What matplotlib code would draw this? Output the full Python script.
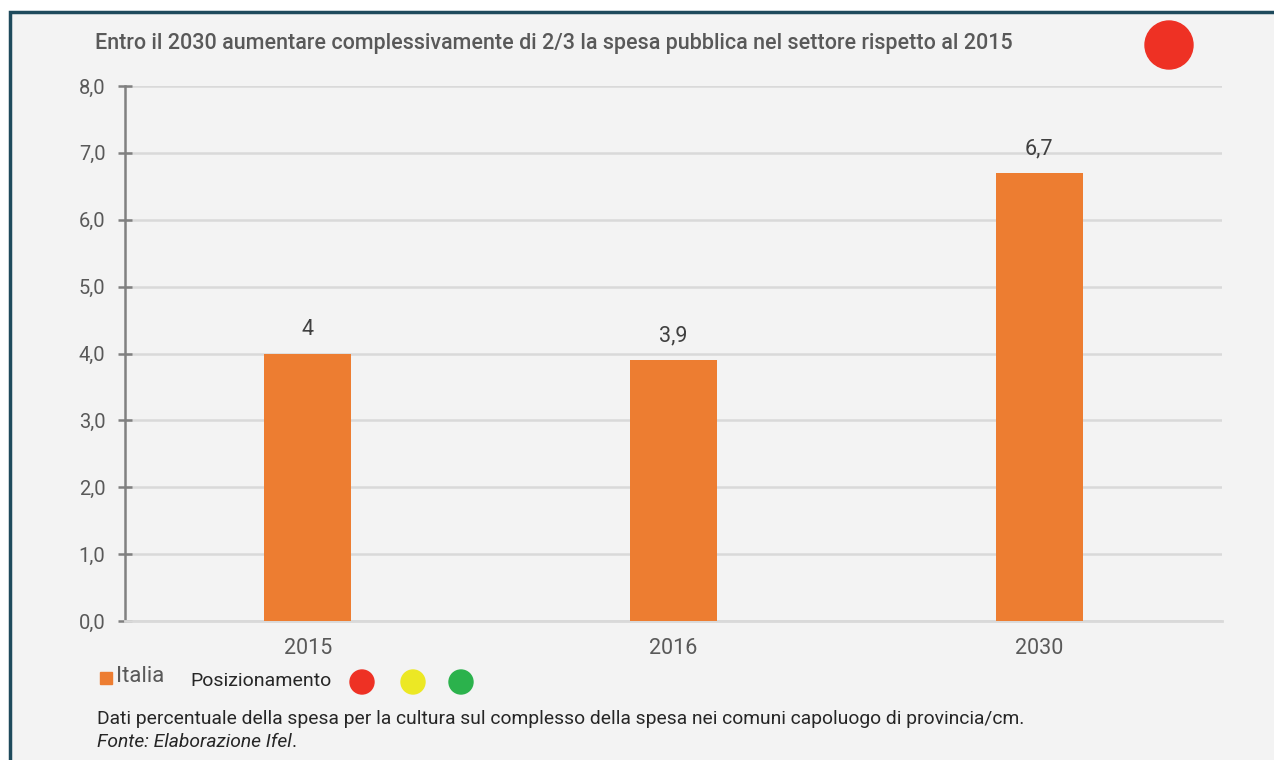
import matplotlib.pyplot as plt
from matplotlib.patches import Circle, Rectangle

plt.rcParams['font.family'] = ['Roboto', 'DejaVu Sans']

anni = ['2015', '2016', '2030']
spesa = [4.0, 3.9, 6.7]
etichette = ['4', '3,9', '6,7']
yticks = [0, 1, 2, 3, 4, 5, 6, 7, 8]

titolo = 'Entro il 2030 aumentare complessivamente di 2/3 la spesa pubblica nel settore rispetto al 2015'
nota = 'Dati percentuale della spesa per la cultura sul complesso della spesa nei comuni capoluogo di provincia/cm.'
fonte = 'Fonte: Elaborazione Ifel'

arancio = '#ed7d31'
sfondo = '#f3f3f3'
bordo = '#1e4a5c'

fig = plt.figure(figsize=(12.74, 7.6), dpi=100)
fig.patch.set_facecolor('white')

# pannello con bordo scuro (il lato destro e quello inferiore escono dall'immagine)
fig.patches.append(Rectangle((9.5 / 1274, -0.01), 1.02, 1 - 11.5 / 760 + 0.01,
                             transform=fig.transFigure, facecolor=sfondo,
                             edgecolor=bordo, linewidth=2.5, zorder=-10))

ax = fig.add_axes([125 / 1274, 1 - 621 / 760, (1222 - 125) / 1274, (621 - 86) / 760])
ax.patch.set_alpha(0)

x = range(len(anni))
ax.bar(x, spesa, width=0.238, color=arancio, zorder=3)
for xi, v, t in zip(x, spesa, etichette):
    ax.annotate(t, (xi, v), xytext=(0, 13.5), textcoords='offset points',
                ha='center', va='baseline', fontsize=15.5, color='#404040')

ax.set_xlim(-0.5, 2.5)
ax.set_ylim(0, 8)
ax.set_yticks(yticks)
ax.set_yticklabels([f'{t:.1f}'.replace('.', ',') for t in yticks])
ax.set_xticks(list(x))
ax.set_xticklabels(anni)
ax.yaxis.grid(True, color='#d9d9d9', linewidth=1.8, zorder=0)
ax.set_axisbelow(True)

for s in ['top', 'right']:
    ax.spines[s].set_visible(False)
ax.spines['left'].set_color('#808080')
ax.spines['left'].set_linewidth(1.8)
ax.spines['bottom'].set_color('#d9d9d9')
ax.spines['bottom'].set_linewidth(2)
ax.tick_params(axis='y', direction='inout', length=10, width=1.8, color='#808080',
               labelsize=14.5, labelcolor='#595959', pad=9)
ax.tick_params(axis='x', length=0, labelsize=15.5, labelcolor='#595959', pad=12)

fig.text(95 / 1274, 1 - 43 / 760, titolo, fontsize=15.5, fontweight='medium',
         color='#595959', va='center', ha='left')

# pallini di posizionamento (coordinate in pixel)
def pallino(cx, cy, r, col):
    fig.patches.append(Circle((cx / 100, (760 - cy) / 100), r / 100,
                              transform=fig.dpi_scale_trans, color=col, zorder=5))

pallino(1169, 45, 24, '#ee3124')
pallino(362, 682, 12, '#ee3124')
pallino(413, 682, 12, '#ece824')
pallino(461, 682, 12, '#2bb24c')

fig.patches.append(Rectangle((100 / 1274, 1 - 684 / 760), 12 / 1274, 12 / 760,
                             transform=fig.transFigure, color=arancio))
fig.text(116 / 1274, 1 - 677 / 760, 'Italia', fontsize=16, color='#595959', va='center')
fig.text(190 / 1274, 1 - 681 / 760, 'Posizionamento', fontsize=14, color='#262626', va='center')

fig.text(97 / 1274, 1 - 719 / 760, nota, fontsize=13.9, color='#262626', va='center')
t_fonte = fig.text(97 / 1274, 1 - 742 / 760, fonte, fontsize=13.9, color='#262626',
                   va='center', style='italic')
ax.annotate('.', xy=(1, 0), xycoords=t_fonte, fontsize=13.9, color='#262626',
            va='bottom', ha='left', annotation_clip=False)

fig.savefig('out.png', dpi=100)
